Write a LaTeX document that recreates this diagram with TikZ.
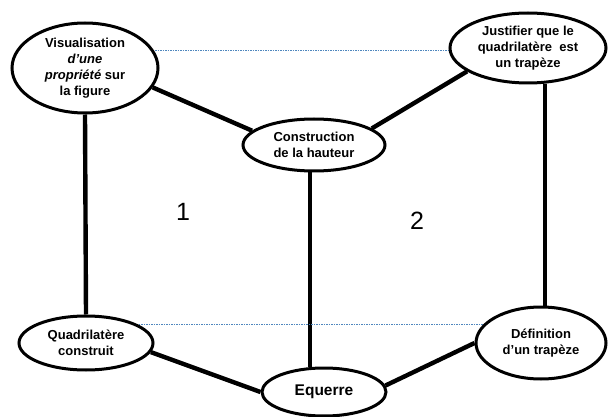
\documentclass[tikz,border=0pt]{standalone}
\usepackage{fontspec}
\setmainfont{Liberation Sans}
\usetikzlibrary{shapes.geometric,backgrounds}
\definecolor{dotblue}{RGB}{80,135,190}
\begin{document}
\begin{tikzpicture}[x=1pt,y=-1pt,
  bubble/.style={ellipse,draw,line width=3pt,fill=white,inner sep=0pt,align=center,
    font=\fontsize{13}{16}\selectfont\bfseries},
  link/.style={line width=4.4pt},
  dotline/.style={draw=dotblue,line width=0.9pt,dash pattern=on 1.6pt off 0.9pt},
  numlabel/.style={font=\fontsize{25}{25}\selectfont}]
\useasboundingbox (0,0) rectangle (608,417);
\node[bubble,minimum width=146pt,minimum height=90pt] (vis) at (85,68)
  {Visualisation\\ \textit{d'une}\\ \textit{propriété} sur\\ la figure};
\node[bubble,minimum width=156pt,minimum height=70pt] (just) at (528,48)
  {Justifier que le\\ quadrilatère\ \ est\\ un trapèze};
\node[bubble,minimum width=142pt,minimum height=52pt] (cons) at (314,145)
  {Construction\\ de la hauteur};
\node[bubble,minimum width=134pt,minimum height=54pt] (quad) at (86,343)
  {Quadrilatère\\ construit};
\node[bubble,minimum width=124pt,minimum height=48pt,font=\fontsize{15.5}{18}\selectfont\bfseries] (eq) at (324,392)
  {Equerre};
\node[bubble,minimum width=130pt,minimum height=72pt] (def) at (541,343)
  {Définition\\ d'un trapèze};
\node[numlabel] (n1) at (183,212) {1};
\node[numlabel] (n2) at (417,221) {2};
\begin{scope}[on background layer]
\draw[link] (vis.south) -- (quad.north);
\draw[link] (vis.-16) -- (cons.167);
\draw[link] (cons.16) -- (just.-159);
\draw[link] ([xshift=-4pt]cons.south) -- ([xshift=-4pt]cons.south |- eq.north);
\draw[link] ([xshift=4pt]def.north) -- ([xshift=4pt]def.north |- just.south);
\draw[link] (quad.-8) -- (eq.180);
\draw[link] (eq.6) -- (def.180);
\draw[dotline] ([yshift=18pt]vis.center) -- ([yshift=18pt]vis.center -| just.center);
\draw[dotline] ([yshift=19pt]quad.center) -- ([yshift=19pt]quad.center -| def.center);
\end{scope}
\end{tikzpicture}
\end{document}
